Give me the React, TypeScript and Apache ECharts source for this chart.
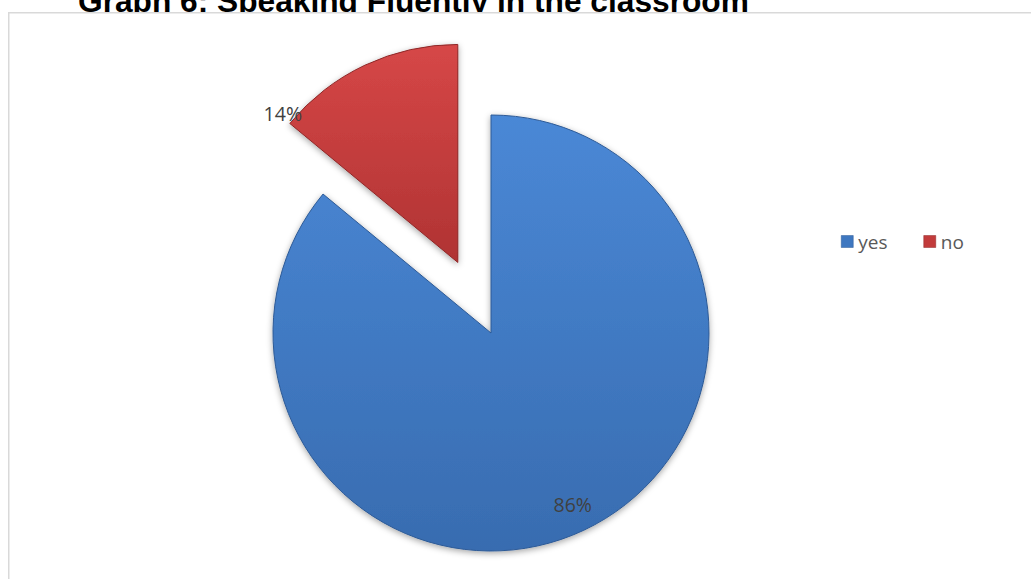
import React, { useEffect, useRef } from "react";
import * as echarts from "echarts";

const titleText = "Graph 6: Speaking Fluently in the classroom";
const categories = ["yes", "no"];
const values = [86, 14];
const labels = ["86%", "14%"];

export default function App() {
  const ref = useRef<HTMLDivElement>(null);
  useEffect(() => {
    if (!ref.current) return;
    const chart = echarts.init(ref.current, null, { renderer: "svg" });
    const grads = [
      new echarts.graphic.LinearGradient(0, 0, 0, 1, [
        { offset: 0, color: "#4a88d6" },
        { offset: 1, color: "#386cb0" },
      ]),
      new echarts.graphic.LinearGradient(0, 0, 0, 1, [
        { offset: 0, color: "#d64747" },
        { offset: 1, color: "#b03333" },
      ]),
    ];
    const borders = ["#2d5a96", "#8e2828"];
    const legendColors = ["#3e77c0", "#c23b3b"];
    const labelOffsets = [
      [34, 70],
      [-91, -40],
    ];
    const mkLabel = (i: number) => ({
      show: true,
      position: "inside",
      formatter: labels[i],
      offset: labelOffsets[i],
      fontFamily: "Open Sans, Noto Sans, sans-serif",
      fontSize: 19.5,
      color: "#404040",
    });
    chart.setOption({
      animation: false,
      color: legendColors,
      title: {
        text: titleText,
        left: 73,
        top: -20,
        z: 1,
        textStyle: {
          fontFamily: "Liberation Sans, Arial, sans-serif",
          fontWeight: "bold",
          fontSize: 31.7,
          color: "#000000",
        },
      },
      graphic: [
        {
          type: "rect",
          z: 5,
          shape: { x: 8.75, y: 12.75, width: 1100, height: 700 },
          style: { fill: "#ffffff", stroke: "#d9d9d9", lineWidth: 1.5 },
        },
      ],
      legend: {
        z: 10,
        left: 836,
        top: 227,
        itemWidth: 12,
        itemHeight: 12,
        itemGap: 36,
        icon: "rect",
        selectedMode: false,
        textStyle: {
          fontFamily: "Open Sans, Noto Sans, sans-serif",
          fontSize: 19,
          color: "#595959",
        },
        data: categories.map((c, i) => ({
          name: c,
          itemStyle: { color: legendColors[i], borderColor: borders[i], borderWidth: 0.5 },
        })),
      },
      series: [
        {
          type: "pie",
          z: 10,
          center: [491, 333],
          radius: 218,
          startAngle: 90,
          clockwise: true,
          selectedMode: "multiple",
          selectedOffset: 78,
          avoidLabelOverlap: false,
          emphasis: { disabled: true },
          labelLine: { show: false },
          data: categories.map((c, i) => ({
            name: c,
            value: values[i],
            selected: i === 1,
            itemStyle: {
              color: grads[i],
              borderColor: borders[i],
              borderWidth: 1,
              shadowBlur: 6,
              shadowOffsetY: 2,
              shadowColor: "rgba(0,0,0,0.35)",
            },
            label: mkLabel(i),
            select: { label: mkLabel(i), itemStyle: { color: grads[i] } },
          })),
        },
      ],
    });
    return () => chart.dispose();
  }, []);
  return (
    <div
      ref={ref}
      style={{ position: "fixed", left: 0, top: 0, width: 1031, height: 579, background: "#ffffff" }}
    />
  );
}
